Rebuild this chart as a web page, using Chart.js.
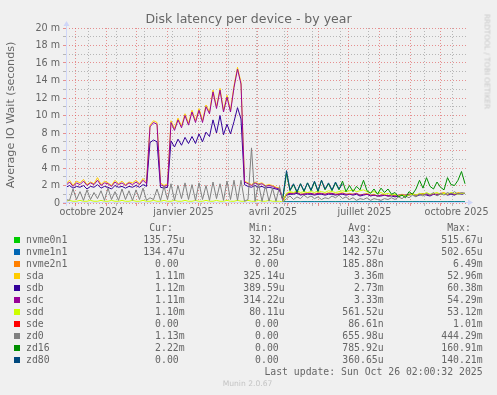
<!DOCTYPE html>
<html>
<head>
<meta charset="utf-8">
<script src="https://cdn.jsdelivr.net/npm/chart.js@4.4.0/dist/chart.umd.min.js"></script>
<style>
  html, body { margin: 0; padding: 0; background: #F0F0F0; }
  body { width: 497px; height: 395px; position: relative; overflow: hidden; }
  #wrap { position: absolute; left: 0; top: 0; width: 497px; height: 225px; }
  .t { position: absolute; white-space: pre; }
  .sw { position: absolute; width: 6px; height: 6px; }
</style>
</head>
<body>
<div id="wrap"><canvas id="c"></canvas></div>
<script>
var DAY = 86400000;
var END = Date.UTC(2025, 9, 26, 0, 0, 32);   // Sun Oct 26 02:00:32 2025 local
var START = END - 400 * DAY;
var STEP_DAYS = 3.5;
var LATE_FROM = 62;   // first sample where the nvme / zd16 / zd80 devices appear

var xLabels = ['octobre 2024', 'janvier 2025', 'avril 2025', 'juillet 2025', 'octobre 2025'];
var xLabelMonths = [[2024, 9], [2025, 0], [2025, 3], [2025, 6], [2025, 9]];
var yTickValues = [0, 1, 2, 3, 4, 5, 6, 7, 8, 9, 10, 11, 12, 13, 14, 15, 16, 17, 18, 19, 20];

var names = ['nvme0n1', 'nvme1n1', 'nvme2n1', 'sda', 'sdb', 'sdc', 'sdd', 'sde', 'zd0', 'zd16', 'zd80'];
var colors = ['#00CC00', '#0066B3', '#FF8000', '#FFCC00', '#330099', '#990099', '#CCFF00', '#FF0000', '#808080', '#008F00', '#00487D'];

// values in milliseconds ("m"), one every 3.5 days
var sda = [
  2.2, 2.6, 2.0, 2.5, 2.3, 2.7, 2.1, 2.4, 2.2, 2.9,
  2.1, 2.5, 2.3, 2.0, 2.6, 2.2, 2.5, 2.1, 2.4, 2.3,
  2.6, 2.2, 2.8, 2.4, 8.9, 9.4, 9.2, 2.3, 2.0, 2.2,
  9.4, 8.5, 9.7, 8.8, 10.2, 9.1, 10.6, 9.4, 10.8, 9.4,
  11.2, 10.4, 12.9, 11.0, 13.1, 10.6, 12.3, 10.6, 13.4, 15.5,
  13.8, 2.5, 2.3, 2.1, 2.4, 2.2, 2.3, 2.0, 2.1, 2.0,
  1.8, 1.7, 0.4, 1.0, 1.2, 1.1, 1.2, 1.0, 1.1, 1.2,
  1.1, 1.0, 1.2, 1.1, 1.0, 1.2, 1.1, 1.0, 1.1, 1.2,
  1.0, 1.1, 1.0, 1.1, 0.9, 1.0, 1.1, 0.9, 1.0, 0.8,
  0.9, 1.0, 0.8, 0.9, 0.8, 0.9, 1.0, 0.9, 1.0, 1.1,
  0.9, 1.0, 1.1, 1.0, 0.9, 1.1, 1.0, 1.1, 1.2, 1.0,
  1.1, 1.0, 1.2, 1.1, 1.1
];
var sdb = [
  1.8, 2.0, 1.7, 1.9, 1.8, 2.0, 1.6, 1.9, 1.8, 2.1,
  1.7, 1.9, 1.8, 1.6, 2.0, 1.8, 1.9, 1.7, 1.9, 1.8,
  2.0, 1.8, 2.1, 1.9, 6.9, 7.2, 7.0, 1.8, 1.7, 1.8,
  7.1, 6.4, 7.3, 6.6, 7.5, 6.8, 7.6, 6.8, 7.9, 7.0,
  8.1, 7.6, 9.5, 8.0, 10.0, 7.8, 9.0, 7.9, 9.3, 10.9,
  9.6, 2.1, 1.9, 1.8, 2.0, 1.8, 1.9, 1.7, 1.8, 1.7,
  1.6, 1.5, 0.3, 0.9, 1.0, 1.0, 1.1, 0.9, 1.0, 1.0,
  1.0, 0.9, 1.0, 1.0, 0.9, 1.0, 1.0, 0.9, 1.0, 1.0,
  0.9, 1.0, 0.9, 1.0, 0.8, 0.9, 1.0, 0.8, 0.9, 0.8,
  0.8, 0.9, 0.8, 0.8, 0.7, 0.8, 0.9, 0.8, 0.9, 1.0,
  0.8, 0.9, 1.0, 0.9, 0.8, 1.0, 0.9, 1.0, 1.1, 0.9,
  1.0, 0.9, 1.1, 1.0, 1.1
];
var sdc = [
  2.0, 2.4, 1.9, 2.3, 2.1, 2.5, 2.0, 2.3, 2.1, 2.6,
  2.0, 2.3, 2.2, 1.9, 2.4, 2.1, 2.3, 2.0, 2.3, 2.1,
  2.4, 2.1, 2.6, 2.2, 8.7, 9.2, 9.0, 2.1, 1.9, 2.0,
  9.2, 8.3, 9.5, 8.6, 10.0, 8.9, 10.4, 9.2, 10.6, 9.2,
  11.0, 10.2, 12.7, 10.8, 12.9, 10.4, 12.1, 10.4, 13.2, 15.3,
  13.6, 2.4, 2.2, 2.0, 2.3, 2.1, 2.2, 1.9, 2.0, 1.9,
  1.7, 1.6, 0.3, 1.0, 1.1, 1.1, 1.2, 1.0, 1.0, 1.1,
  1.1, 1.0, 1.1, 1.1, 1.0, 1.1, 1.1, 1.0, 1.0, 1.1,
  1.0, 1.0, 1.0, 1.1, 0.9, 1.0, 1.0, 0.9, 0.9, 0.8,
  0.9, 0.9, 0.8, 0.9, 0.8, 0.9, 0.9, 0.9, 1.0, 1.0,
  0.9, 1.0, 1.0, 1.0, 0.9, 1.0, 1.0, 1.1, 1.1, 1.0,
  1.1, 1.0, 1.1, 1.1, 1.1
];
var sdd = [
  0.2, 0.3, 0.2, 0.2, 0.3, 0.2, 0.2, 0.3, 0.2, 0.2,
  0.3, 0.2, 0.2, 0.3, 0.2, 0.2, 0.3, 0.2, 0.2, 0.3,
  0.2, 0.2, 0.3, 0.2, 0.2, 0.3, 0.2, 0.2, 0.3, 0.2,
  0.2, 0.3, 0.2, 0.2, 0.3, 0.2, 0.2, 0.3, 0.2, 0.2,
  0.3, 0.2, 0.2, 0.3, 0.2, 0.2, 0.3, 0.2, 0.2, 0.3,
  0.2, 0.2, 0.3, 0.2, 0.2, 0.3, 0.2, 0.2, 0.3, 0.2,
  0.2, 0.2, 0.1, 1.1, 1.3, 1.2, 1.4, 1.2, 1.3, 1.2,
  1.3, 1.2, 1.4, 1.3, 1.2, 1.4, 1.3, 1.2, 1.3, 1.4,
  1.3, 1.4, 1.5, 1.3, 1.4, 1.5, 1.3, 1.2, 1.3, 1.1,
  1.2, 1.0, 1.1, 0.9, 1.0, 0.8, 0.9, 0.8, 0.9, 1.0,
  0.9, 1.1, 1.0, 1.2, 1.0, 1.1, 1.2, 1.0, 1.1, 1.0,
  1.2, 1.1, 1.0, 1.1, 1.1
];
var zd0 = [
  0.4, 0.3, 1.6, 0.4, 1.3, 0.3, 1.5, 0.4, 1.2, 0.5,
  1.4, 0.3, 1.7, 0.4, 1.3, 0.3, 1.6, 0.4, 1.4, 0.3,
  1.5, 0.4, 1.7, 0.3, 0.6, 0.4, 1.6, 0.3, 1.9, 0.4,
  2.2, 0.3, 2.0, 0.5, 2.3, 0.4, 2.1, 0.3, 2.3, 0.4,
  2.0, 0.3, 2.4, 0.5, 2.2, 0.3, 2.5, 0.4, 2.6, 0.3,
  2.6, 0.2, 0.4, 6.3, 0.2, 2.2, 0.2, 2.0, 0.2, 1.7,
  0.2, 1.9, 0.1, 0.5, 0.8, 0.4, 0.7, 0.5, 0.9, 0.6,
  0.8, 0.5, 0.7, 0.4, 0.6, 0.5, 0.8, 0.6, 0.9, 0.5,
  0.7, 0.4, 0.6, 0.3, 0.5, 0.4, 0.6, 0.3, 0.5, 0.4,
  0.3, 0.5, 0.4, 0.6, 0.4, 0.7, 0.5, 0.8, 0.6, 0.9,
  0.7, 1.0, 0.8, 1.1, 0.9, 1.2, 0.8, 1.1, 0.9, 1.2,
  1.0, 1.3, 1.0, 1.2, 1.1
];
// late devices: values start at sample LATE_FROM
var nvme0n1 = [
  0.13, 0.15, 0.14, 0.14, 0.15, 0.13, 0.14, 0.15, 0.14, 0.13,
  0.14, 0.15, 0.14, 0.14, 0.13, 0.15, 0.14, 0.14, 0.15, 0.13,
  0.14, 0.14, 0.15, 0.14, 0.13, 0.14, 0.15, 0.14, 0.14, 0.13,
  0.15, 0.14, 0.14, 0.15, 0.13, 0.14, 0.14, 0.15, 0.14, 0.13,
  0.14, 0.15, 0.14, 0.14, 0.13, 0.15, 0.14, 0.14, 0.15, 0.14,
  0.13, 0.14, 0.14
];
var nvme1n1 = [
  0.13, 0.14, 0.15, 0.14, 0.14, 0.13, 0.15, 0.14, 0.14, 0.15,
  0.13, 0.14, 0.14, 0.15, 0.14, 0.13, 0.14, 0.15, 0.14, 0.14,
  0.13, 0.15, 0.14, 0.14, 0.14, 0.15, 0.13, 0.14, 0.15, 0.14,
  0.14, 0.13, 0.15, 0.14, 0.14, 0.15, 0.13, 0.14, 0.14, 0.15,
  0.14, 0.13, 0.14, 0.15, 0.14, 0.14, 0.13, 0.15, 0.14, 0.14,
  0.15, 0.13, 0.13
];
var nvme2n1 = [
  0, 0, 0, 0, 0, 0, 0, 0, 0, 0,
  0, 0, 0, 0, 0, 0, 0, 0, 0, 0,
  0, 0, 0, 0, 0, 0, 0, 0, 0, 0,
  0, 0, 0, 0, 0, 0, 0, 0, 0, 0,
  0, 0, 0, 0, 0, 0, 0, 0, 0, 0,
  0, 0, 0
];
var sde = [
  0, 0, 0, 0, 0, 0, 0, 0, 0, 0,
  0, 0, 0, 0, 0, 0, 0, 0, 0, 0,
  0, 0, 0, 0, 0, 0, 0, 0, 0, 0,
  0, 0, 0, 0, 0, 0, 0, 0, 0, 0,
  0, 0, 0, 0, 0, 0, 0, 0, 0, 0,
  0, 0, 0
];
var zd16 = [
  0.6, 3.4, 1.4, 2.1, 1.2, 2.2, 1.3, 2.3,
  1.4, 2.4, 1.3, 2.6, 1.5, 2.2, 1.4, 2.3, 1.5, 2.5,
  1.3, 2.0, 1.3, 1.9, 1.5, 2.6, 1.4, 1.1, 1.6, 1.0,
  1.7, 1.2, 1.6, 1.0, 1.2, 0.7, 0.9, 0.6, 1.3, 1.0,
  1.6, 2.6, 1.7, 2.9, 1.9, 1.6, 2.4, 1.8, 1.5, 2.9,
  2.1, 2.0, 2.6, 3.6, 2.2
];
var zd80 = [
  0.8, 3.7, 1.5, 2.2, 1.3, 2.2, 1.4, 2.3,
  1.5, 2.5, 1.4, 2.6, 1.6, 2.3, 1.5, 2.4, 1.6, 2.2
];

var curVals = ['135.75u', '134.47u', '0.00', '1.11m', '1.12m', '1.11m', '1.10m', '0.00', '1.13m', '2.22m', '0.00'];
var minVals = ['32.18u', '32.25u', '0.00', '325.14u', '389.59u', '314.22u', '80.11u', '0.00', '0.00', '0.00', '0.00'];
var avgVals = ['143.32u', '142.57u', '185.88n', '3.36m', '2.73m', '3.33m', '561.52u', '86.61n', '655.98u', '785.92u', '360.65u'];
var maxVals = ['515.67u', '502.65u', '6.49m', '52.96m', '60.38m', '54.29m', '53.12m', '1.01m', '444.29m', '160.91m', '140.21m'];

var MAJOR = 'rgba(222,79,79,0.6)';
var MINOR = 'rgba(143,143,143,0.6)';
var AXIS = '#CFD6F8';
var FONT_COLOR = '#666666';

function toPoints(values, from) {
    return values.map(function(v, i) {
        return { x: START + (from + i) * STEP_DAYS * DAY, y: v };
    });
}

var seriesList = [
    toPoints(nvme0n1, LATE_FROM), toPoints(nvme1n1, LATE_FROM), toPoints(nvme2n1, LATE_FROM),
    toPoints(sda, 0), toPoints(sdb, 0), toPoints(sdc, 0), toPoints(sdd, 0),
    toPoints(sde, LATE_FROM), toPoints(zd0, 0), toPoints(zd16, LATE_FROM), toPoints(zd80, LATE_FROM)
];

// x ticks: month starts (major grid), 4-week minor grid, mid-month labels
function buildXTicks() {
    var ticks = [];
    for (var y = 2024, m = 8; y < 2026; m++) {
        if (m > 11) { m = 0; y++; }
        if (y === 2026) break;
        var t = Date.UTC(y, m, 1);
        if (t > START && t < END) ticks.push({ value: t, kind: 'major', label: '' });
    }
    for (var w = Date.UTC(2024, 9, 14); w < END; w += 28 * DAY) {
        if (w > START) ticks.push({ value: w, kind: 'minor', label: '' });
    }
    xLabelMonths.forEach(function(ym, i) {
        var a = Date.UTC(ym[0], ym[1], 1), b = Date.UTC(ym[0], ym[1] + 1, 1);
        ticks.push({ value: (a + b) / 2, kind: 'label', label: xLabels[i] });
    });
    ticks.sort(function(p, q) { return p.value - q.value; });
    return ticks;
}
var xTicks = buildXTicks();

function xGridColor(ctx) {
    if (!ctx.tick) return 'rgba(0,0,0,0)';
    if (ctx.tick.kind === 'major') return MAJOR;
    if (ctx.tick.kind === 'minor') return MINOR;
    return 'rgba(0,0,0,0)';
}
function yGridColor(ctx) {
    if (!ctx.tick) return MINOR;
    return ctx.tick.value % 2 === 0 ? MAJOR : MINOR;
}

var axisArrows = {
    id: 'axisArrows',
    afterDraw: function(chart) {
        var ctx = chart.ctx, a = chart.chartArea;
        var x0 = a.left + 0.5, y0 = a.bottom - 0.5;
        ctx.save();
        ctx.strokeStyle = AXIS;
        ctx.fillStyle = AXIS;
        ctx.lineWidth = 1;
        ctx.beginPath();
        ctx.moveTo(x0, a.bottom + 3);
        ctx.lineTo(x0, a.top - 3);
        ctx.moveTo(a.left - 3, y0);
        ctx.lineTo(a.right + 3, y0);
        ctx.stroke();
        ctx.beginPath();
        ctx.moveTo(x0 - 3, a.top - 2);
        ctx.lineTo(x0 + 3, a.top - 2);
        ctx.lineTo(x0, a.top - 7);
        ctx.closePath();
        ctx.fill();
        ctx.beginPath();
        ctx.moveTo(a.right + 2, y0 - 3);
        ctx.lineTo(a.right + 2, y0 + 3);
        ctx.lineTo(a.right + 7, y0);
        ctx.closePath();
        ctx.fill();
        ctx.restore();
    }
};

Chart.defaults.font.family = "'DejaVu Sans', sans-serif";

new Chart(document.getElementById('c'), {
    type: 'line',
    data: {
        datasets: seriesList.map(function(pts, i) {
            return {
                label: names[i],
                data: pts,
                borderColor: colors[i],
                backgroundColor: colors[i],
                borderWidth: 1,
                pointRadius: 0,
                tension: 0,
                fill: false,
                spanGaps: false,
                order: names.length - i
            };
        })
    },
    options: {
        responsive: true,
        maintainAspectRatio: false,
        animation: false,
        events: [],
        layout: { padding: { left: 0, right: 31, top: 28, bottom: 0 } },
        plugins: { legend: { display: false }, tooltip: { enabled: false }, title: { display: false } },
        scales: {
            x: {
                type: 'linear',
                min: START,
                max: END,
                afterBuildTicks: function(s) {
                    s.ticks = xTicks.map(function(t) { return { value: t.value, kind: t.kind, label: t.label }; });
                },
                afterFit: function(s) { s.height = 22; },
                grid: { color: xGridColor, lineWidth: 1, drawTicks: true, tickLength: 3, tickColor: xGridColor },
                border: { display: false, dash: [1, 2] },
                ticks: {
                    autoSkip: false, maxRotation: 0, minRotation: 0, padding: 1,
                    color: FONT_COLOR, font: { size: 9.6 },
                    callback: function(v, i, ticks) { return ticks[i].label || ''; }
                }
            },
            y: {
                min: 0,
                max: 20,
                afterBuildTicks: function(s) {
                    s.ticks = yTickValues.map(function(v) { return { value: v }; });
                },
                afterFit: function(s) { s.width = 66; },
                grid: { color: yGridColor, lineWidth: 1, drawTicks: true, tickLength: 3, tickColor: yGridColor },
                border: { display: false, dash: [1, 2] },
                ticks: {
                    autoSkip: false, padding: 3,
                    color: FONT_COLOR, font: { size: 9.6 },
                    callback: function(v) { return v % 2 ? '' : (v === 0 ? '0' : v + ' m'); }
                }
            }
        }
    },
    plugins: [axisArrows]
});

// ---- texts around the plot: title, axis title, legend table, footer ----
function addText(txt, x, base, o) {
    var fs = o.size, L = Math.ceil(fs * 1.4);
    var el = document.createElement('div');
    el.className = 't';
    el.textContent = txt;
    el.style.fontFamily = o.mono ? "'DejaVu Sans Mono', monospace" : "'DejaVu Sans', sans-serif";
    el.style.fontSize = fs + 'px';
    el.style.lineHeight = L + 'px';
    el.style.color = o.color || FONT_COLOR;
    el.style.top = (base - L / 2 - 0.346 * fs) + 'px';
    if (o.align === 'right') {
        el.style.left = (x - 600) + 'px'; el.style.width = '600px'; el.style.textAlign = 'right';
    } else if (o.align === 'center') {
        el.style.left = (x - 300) + 'px'; el.style.width = '600px'; el.style.textAlign = 'center';
    } else {
        el.style.left = x + 'px';
    }
    document.body.appendChild(el);
    return el;
}

function addRotated(txt, cx, cy, fs, deg, color) {
    var L = Math.ceil(fs * 1.4);
    var el = document.createElement('div');
    el.className = 't';
    el.textContent = txt;
    el.style.fontFamily = "'DejaVu Sans', sans-serif";
    el.style.fontSize = fs + 'px';
    el.style.lineHeight = L + 'px';
    el.style.color = color;
    el.style.width = '300px';
    el.style.textAlign = 'center';
    el.style.left = (cx - 150) + 'px';
    el.style.top = (cy - L / 2) + 'px';
    el.style.transform = 'rotate(' + deg + 'deg)';
    document.body.appendChild(el);
}

addText('Disk latency per device - by year', 248.5, 23.5, { size: 12.5, align: 'center' });
addRotated('Average IO Wait (seconds)', 10.7, 115, 11.1, -90, FONT_COLOR);
addRotated('RRDTOOL / TOBI OETIKER', 486.5, 61.5, 7.4, 90, '#C8C8C8');

var LEG = { size: 9.8, mono: true };
var colRight = [184.6, 284.6, 383.6, 482.6];
var headBase = 231.3, rowBase = 243.3, rowStep = 12;
['Cur:', 'Min:', 'Avg:', 'Max:'].forEach(function(h, c) {
    addText(h + '  ', colRight[c], headBase, { size: 9.8, mono: true, align: 'right' });
});
function withUnit(v) { return /[a-z]$/i.test(v) ? v : v + ' '; }
names.forEach(function(n, i) {
    var base = rowBase + i * rowStep;
    var sw = document.createElement('div');
    sw.className = 'sw';
    sw.style.left = '14px';
    sw.style.top = (base - 6.5) + 'px';
    sw.style.background = colors[i];
    document.body.appendChild(sw);
    addText(n, 26, base, LEG);
    [curVals, minVals, avgVals, maxVals].forEach(function(col, c) {
        addText(withUnit(col[i]), colRight[c], base, { size: 9.8, mono: true, align: 'right' });
    });
});
addText('Last update: Sun Oct 26 02:00:32 2025', colRight[3], rowBase + names.length * rowStep, { size: 9.8, mono: true, align: 'right' });
addText('Munin 2.0.67', 247.5, 386, { size: 7.6, align: 'center', color: '#C4C4C4' });
</script>
</body>
</html>
